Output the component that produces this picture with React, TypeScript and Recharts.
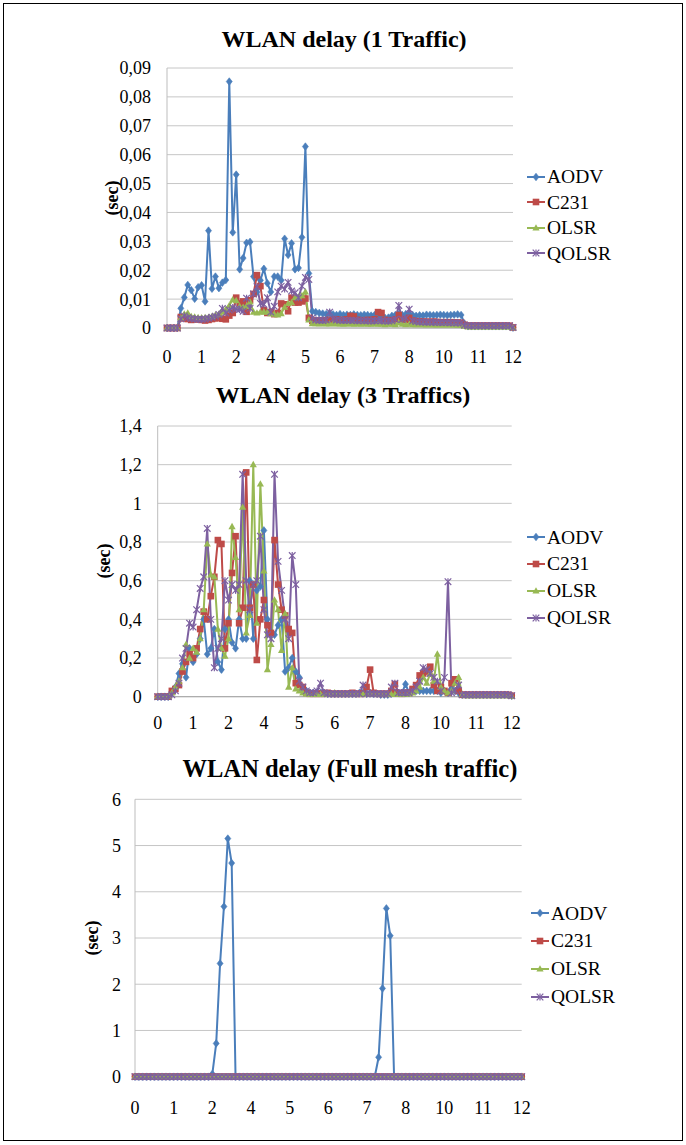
import React from 'react';
import { LineChart, Line, XAxis, YAxis, CartesianGrid, Legend } from 'recharts';

const FONT = "'Liberation Serif', 'Times New Roman', serif";

const SERIES = ['AODV', 'C231', 'OLSR', 'QOLSR'];
const COLORS: Record<string, string> = {
  AODV: '#4A7EBB',
  C231: '#BE4B48',
  OLSR: '#98B954',
  QOLSR: '#7D60A0',
};
const SHAPES: Record<string, string> = {
  AODV: 'diamond',
  C231: 'square',
  OLSR: 'triangle',
  QOLSR: 'x',
};

// x axis: 101 samples, a label every 10th sample
const X_TICK_POS = [0, 10, 20, 30, 40, 50, 60, 70, 80, 90, 100];
const X_TICK_LABELS = ['0', '1', '2', '4', '5', '6', '7', '8', '10', '11', '12'];

// ---------- Chart 1 : WLAN delay (1 Traffic) ----------
const Y1_TICKS = [0, 0.01, 0.02, 0.03, 0.04, 0.05, 0.06, 0.07, 0.08, 0.09];
const Y1_LABELS = ['0', '0,01', '0,02', '0,03', '0,04', '0,05', '0,06', '0,07', '0,08', '0,09'];

const AODV_1 = [
  0, 0, 0, 0, 0.0068, 0.0106, 0.0149, 0.0131, 0.0101, 0.0141,
  0.0148, 0.0092, 0.0337, 0.0136, 0.0178, 0.0138, 0.0157, 0.0166, 0.0853, 0.0331,
  0.0531, 0.0203, 0.0242, 0.0295, 0.0298, 0.0178, 0.0125, 0.0165, 0.0205, 0.0155,
  0.0125, 0.0178, 0.0178, 0.0165, 0.0309, 0.0253, 0.0293, 0.0203, 0.0208, 0.0314,
  0.0628, 0.0189, 0.0058, 0.0055, 0.0052, 0.005, 0.0048, 0.0052, 0.0047, 0.0045,
  0.0048, 0.0045, 0.0046, 0.0045, 0.0047, 0.0045, 0.0044, 0.0046, 0.0045, 0.0043,
  0.0045, 0.0042, 0.0038, 0.0035, 0.0036, 0.0042, 0.0045, 0.0047, 0.0045, 0.0048,
  0.0046, 0.0045, 0.0042, 0.0044, 0.0043, 0.0046, 0.0045, 0.0044, 0.0045, 0.0046,
  0.0045, 0.0044, 0.0045, 0.0046, 0.0047, 0.0045, 0.0015, 0.0006, 0.0006, 0.0006,
  0.0006, 0.0006, 0.0006, 0.0006, 0.0006, 0.0006, 0.0006, 0.0006, 0.0006, 0.0006,
  0.0001,
];
const C231_1 = [
  0, 0, 0, 0, 0.0038, 0.0033, 0.0031, 0.0028, 0.003, 0.003,
  0.0028, 0.0026, 0.0028, 0.0031, 0.0033, 0.0036, 0.0032, 0.003, 0.0043, 0.0052,
  0.0105, 0.0085, 0.0092, 0.0056, 0.0096, 0.0118, 0.0183, 0.0145, 0.0062, 0.0052,
  0.0055, 0.0048, 0.0052, 0.0085, 0.0082, 0.0058, 0.0105, 0.0088, 0.0088, 0.0092,
  0.0102, 0.0035, 0.0025, 0.0026, 0.0025, 0.0027, 0.0026, 0.0028, 0.0027, 0.003,
  0.0028, 0.0027, 0.003, 0.0042, 0.004, 0.0028, 0.0027, 0.0026, 0.0028, 0.0027,
  0.003, 0.0055, 0.0052, 0.0028, 0.0026, 0.0027, 0.003, 0.0045, 0.003, 0.0028,
  0.0035, 0.0026, 0.0024, 0.0023, 0.0022, 0.0022, 0.0021, 0.0022, 0.0021, 0.002,
  0.002, 0.002, 0.002, 0.0019, 0.0019, 0.0018, 0.0011, 0.0008, 0.0008, 0.0008,
  0.0008, 0.0008, 0.0008, 0.0008, 0.0008, 0.0008, 0.0008, 0.0008, 0.0008, 0.0008,
  0.0002,
];
const OLSR_1 = [
  0, 0, 0, 0, 0.0035, 0.0048, 0.0052, 0.004, 0.0038, 0.0036,
  0.0035, 0.0036, 0.0037, 0.004, 0.0045, 0.0048, 0.0055, 0.0065, 0.0078, 0.0098,
  0.0095, 0.0075, 0.0072, 0.0075, 0.009, 0.0055, 0.0052, 0.0055, 0.0056, 0.0055,
  0.005, 0.0048, 0.0045, 0.005, 0.0072, 0.0085, 0.0088, 0.0105, 0.0108, 0.0112,
  0.0125, 0.0028, 0.0015, 0.0015, 0.0014, 0.0015, 0.0014, 0.0014, 0.0015, 0.0014,
  0.0014, 0.0013, 0.0014, 0.0014, 0.0013, 0.0014, 0.0013, 0.0014, 0.0013, 0.0013,
  0.0014, 0.0013, 0.0013, 0.0012, 0.0013, 0.0013, 0.0012, 0.0018, 0.0013, 0.0012,
  0.0013, 0.0012, 0.0012, 0.0012, 0.0012, 0.0011, 0.0012, 0.0011, 0.0011, 0.0011,
  0.0011, 0.0011, 0.0011, 0.0011, 0.001, 0.001, 0.0006, 0.0004, 0.0004, 0.0004,
  0.0004, 0.0004, 0.0004, 0.0004, 0.0004, 0.0004, 0.0004, 0.0004, 0.0004, 0.0004,
  0.0001,
];
const QOLSR_1 = [
  0, 0, 0, 0, 0.0032, 0.0042, 0.0036, 0.0033, 0.0031, 0.003,
  0.003, 0.0031, 0.0034, 0.0037, 0.0041, 0.0047, 0.0068, 0.0052, 0.0062, 0.0071,
  0.0066, 0.0064, 0.0058, 0.0103, 0.0068, 0.0118, 0.0143, 0.0085, 0.0082, 0.0105,
  0.0055, 0.0075, 0.0125, 0.0145, 0.0135, 0.0158, 0.0128, 0.0122, 0.0105, 0.0145,
  0.0175, 0.0168, 0.0035, 0.0028, 0.0027, 0.0026, 0.0028, 0.0055, 0.0032, 0.0028,
  0.0027, 0.0026, 0.0026, 0.0027, 0.0026, 0.0025, 0.0026, 0.0025, 0.0025, 0.0024,
  0.0025, 0.0026, 0.0025, 0.0024, 0.0024, 0.0025, 0.003, 0.0078, 0.003, 0.0035,
  0.0065, 0.0025, 0.0022, 0.0021, 0.0021, 0.002, 0.002, 0.002, 0.0019, 0.0019,
  0.0019, 0.0019, 0.0018, 0.0018, 0.0018, 0.0017, 0.001, 0.0008, 0.0008, 0.0008,
  0.0008, 0.0008, 0.0008, 0.0008, 0.0008, 0.0008, 0.0008, 0.0008, 0.0008, 0.0008,
  0.0002,
];

// ---------- Chart 2 : WLAN delay (3 Traffics) ----------
const Y2_TICKS = [0, 0.2, 0.4, 0.6, 0.8, 1, 1.2, 1.4];
const Y2_LABELS = ['0', '0,2', '0,4', '0,6', '0,8', '1', '1,2', '1,4'];

const AODV_2 = [
  0, 0, 0, 0, 0.02, 0.05, 0.12, 0.17, 0.1, 0.25,
  0.18, 0.22, 0.3, 0.4, 0.22, 0.25, 0.35, 0.18, 0.14, 0.35,
  0.4, 0.28, 0.25, 0.4, 0.3, 0.3, 0.6, 0.3, 0.55, 0.57,
  0.86, 0.4, 0.33, 0.32, 0.37, 0.4, 0.13, 0.15, 0.2, 0.13,
  0.1, 0.04, 0.03, 0.02, 0.02, 0.02, 0.02, 0.02, 0.015, 0.015,
  0.015, 0.015, 0.015, 0.015, 0.015, 0.015, 0.015, 0.02, 0.02, 0.015,
  0.02, 0.015, 0.015, 0.01, 0.01, 0.01, 0.015, 0.02, 0.02, 0.02,
  0.065, 0.02, 0.03, 0.03, 0.03, 0.03, 0.03, 0.03, 0.03, 0.03,
  0.02, 0.03, 0.02, 0.04, 0.03, 0.02, 0.01, 0.01, 0.01, 0.01,
  0.01, 0.01, 0.01, 0.01, 0.01, 0.01, 0.01, 0.01, 0.01, 0.01,
  0.005,
];
const C231_2 = [
  0, 0, 0, 0, 0.03, 0.04, 0.06, 0.13, 0.18, 0.22,
  0.2, 0.25, 0.35, 0.44, 0.4, 0.52, 0.62, 0.81, 0.79, 0.25,
  0.38, 0.64, 0.83, 0.38, 0.46, 1.16, 0.46, 0.58, 0.19, 0.4,
  0.5, 0.37, 0.33, 0.81, 0.58, 0.45, 0.42, 0.35, 0.33, 0.07,
  0.06, 0.05, 0.02, 0.015, 0.015, 0.015, 0.015, 0.015, 0.02, 0.015,
  0.015, 0.015, 0.015, 0.015, 0.015, 0.02, 0.015, 0.015, 0.015, 0.05,
  0.14, 0.02, 0.015, 0.015, 0.015, 0.015, 0.03, 0.065, 0.02, 0.015,
  0.02, 0.02, 0.04, 0.06, 0.11, 0.12, 0.13, 0.155, 0.06, 0.03,
  0.05, 0.03, 0.02, 0.07, 0.09, 0.03, 0.01, 0.01, 0.01, 0.01,
  0.01, 0.01, 0.01, 0.01, 0.01, 0.01, 0.01, 0.01, 0.01, 0.01,
  0.005,
];
const OLSR_2 = [
  0, 0, 0, 0, 0.02, 0.05, 0.08, 0.15, 0.27, 0.2,
  0.25, 0.23, 0.3, 0.45, 0.79, 0.63, 0.62, 0.35, 0.25, 0.21,
  0.3, 0.88, 0.72, 0.45, 0.98, 0.33, 0.42, 1.2, 0.38, 1.1,
  0.65, 0.14, 0.27, 0.5, 0.45, 0.24, 0.43, 0.05, 0.15, 0.04,
  0.03, 0.02, 0.015, 0.012, 0.012, 0.012, 0.012, 0.012, 0.012, 0.012,
  0.02, 0.012, 0.012, 0.012, 0.012, 0.012, 0.012, 0.012, 0.012, 0.012,
  0.012, 0.012, 0.012, 0.012, 0.012, 0.012, 0.012, 0.012, 0.012, 0.012,
  0.012, 0.015, 0.02, 0.03, 0.05, 0.1, 0.07, 0.12, 0.08, 0.22,
  0.05, 0.03, 0.02, 0.03, 0.07, 0.1, 0.01, 0.005, 0.005, 0.005,
  0.005, 0.005, 0.005, 0.005, 0.005, 0.005, 0.005, 0.005, 0.005, 0.005,
  0.002,
];
const QOLSR_2 = [
  0, 0, 0, 0, 0.01, 0.03, 0.07, 0.2, 0.25, 0.38,
  0.36, 0.45, 0.56, 0.62, 0.87, 0.4, 0.15, 0.25, 0.3, 0.6,
  0.5, 0.58, 0.55, 0.58, 1.15, 0.6, 0.45, 0.58, 0.6, 0.83,
  0.45, 0.32, 0.3, 1.15, 0.7, 0.55, 0.4, 0.3, 0.73, 0.58,
  0.08, 0.05, 0.03, 0.02, 0.02, 0.03, 0.07, 0.02, 0.015, 0.015,
  0.015, 0.015, 0.015, 0.015, 0.015, 0.015, 0.015, 0.015, 0.06, 0.015,
  0.015, 0.015, 0.015, 0.015, 0.015, 0.015, 0.05, 0.07, 0.02, 0.02,
  0.02, 0.02, 0.03, 0.05, 0.08, 0.15, 0.14, 0.12, 0.1, 0.08,
  0.03, 0.1, 0.595, 0.02, 0.03, 0.06, 0.01, 0.01, 0.01, 0.01,
  0.01, 0.01, 0.01, 0.01, 0.01, 0.01, 0.01, 0.01, 0.01, 0.01,
  0.005,
];

// ---------- Chart 3 : WLAN delay (Full mesh traffic) ----------
const Y3_TICKS = [0, 1, 2, 3, 4, 5, 6];
const Y3_LABELS = ['0', '1', '2', '3', '4', '5', '6'];

const AODV_3 = [
  0, 0, 0, 0, 0, 0, 0, 0, 0, 0,
  0, 0, 0, 0, 0, 0, 0, 0, 0, 0,
  0.06, 0.72, 2.45, 3.68, 5.15, 4.62, 0, 0, 0, 0,
  0, 0, 0, 0, 0, 0, 0, 0, 0, 0,
  0, 0, 0, 0, 0, 0, 0, 0, 0, 0,
  0, 0, 0, 0, 0, 0, 0, 0, 0, 0,
  0, 0, 0, 0.42, 1.91, 3.64, 3.05, 0, 0, 0,
  0, 0, 0, 0, 0, 0, 0, 0, 0, 0,
  0, 0, 0, 0, 0, 0, 0, 0, 0, 0,
  0, 0, 0, 0, 0, 0, 0, 0, 0, 0,
  0,
];
// C231, OLSR and QOLSR all stay at 0 in the full mesh case
const ZERO_3 = [
  0, 0, 0, 0, 0, 0, 0, 0, 0, 0,
  0, 0, 0, 0, 0, 0, 0, 0, 0, 0,
  0, 0, 0, 0, 0, 0, 0, 0, 0, 0,
  0, 0, 0, 0, 0, 0, 0, 0, 0, 0,
  0, 0, 0, 0, 0, 0, 0, 0, 0, 0,
  0, 0, 0, 0, 0, 0, 0, 0, 0, 0,
  0, 0, 0, 0, 0, 0, 0, 0, 0, 0,
  0, 0, 0, 0, 0, 0, 0, 0, 0, 0,
  0, 0, 0, 0, 0, 0, 0, 0, 0, 0,
  0, 0, 0, 0, 0, 0, 0, 0, 0, 0,
  0,
];
const C231_3 = ZERO_3;
const OLSR_3 = ZERO_3;
const QOLSR_3 = ZERO_3;

function buildData(a: number[], b: number[], c: number[], d: number[]) {
  return a.map((v, i) => ({ i, AODV: v, C231: b[i], OLSR: c[i], QOLSR: d[i] }));
}

function Marker({ shape, cx, cy, color }: { shape: string; cx: number; cy: number; color: string }) {
  if (cx == null || cy == null || isNaN(cx) || isNaN(cy)) return null;
  if (shape === 'diamond') {
    return (
      <polygon
        points={`${cx},${cy - 3.8} ${cx + 3},${cy} ${cx},${cy + 3.8} ${cx - 3},${cy}`}
        fill={color}
        stroke={color}
        strokeWidth={0.6}
      />
    );
  }
  if (shape === 'square') {
    return <rect x={cx - 3.3} y={cy - 3.3} width={6.6} height={6.6} fill={color} />;
  }
  if (shape === 'triangle') {
    return (
      <polygon
        points={`${cx},${cy - 3.8} ${cx + 3.6},${cy + 2.6} ${cx - 3.6},${cy + 2.6}`}
        fill={color}
      />
    );
  }
  return (
    <g stroke={color} strokeWidth={1.2}>
      <line x1={cx - 3.3} y1={cy - 3.3} x2={cx + 3.3} y2={cy + 3.3} />
      <line x1={cx - 3.3} y1={cy + 3.3} x2={cx + 3.3} y2={cy - 3.3} />
      <line x1={cx} y1={cy - 3.5} x2={cx} y2={cy + 3.5} />
    </g>
  );
}

function LegendBox({ rowH }: { rowH: number }) {
  return (
    <div style={{ fontFamily: FONT, fontSize: 19.5, color: '#000' }}>
      {SERIES.map((s) => (
        <div key={s} style={{ display: 'flex', alignItems: 'center', height: rowH }}>
          <svg width={20} height={12} style={{ display: 'block' }}>
            <line x1={1} y1={6} x2={19} y2={6} stroke={COLORS[s]} strokeWidth={2} />
            <Marker shape={SHAPES[s]} cx={10} cy={6} color={COLORS[s]} />
          </svg>
          <span style={{ marginLeft: 1, lineHeight: 1, fontFamily: FONT }}>{s}</span>
        </div>
      ))}
    </div>
  );
}

type PanelProps = {
  data: any[];
  height: number;
  plotTop: number;
  plotBottom: number;
  plotLeft: number;
  plotRight: number;
  yMax: number;
  yTicks: number[];
  yLabels: string[];
  yGap: number;
  xGap: number;
  legendLeft: number;
  legendTop: number;
  legendRow: number;
};

const TICK_STYLE = { fontFamily: FONT, fontSize: 18, fill: '#000', style: { fontFamily: FONT } };

function Panel(p: PanelProps) {
  const W = 686;
  return (
    <LineChart
      width={W}
      height={p.height}
      data={p.data}
      margin={{ top: p.plotTop, right: W - p.plotRight, bottom: 0, left: 0 }}
      style={{ fontFamily: FONT }}
    >
      <CartesianGrid vertical={false} stroke="#C6C6C6" strokeWidth={1} />
      <XAxis
        dataKey="i"
        type="number"
        domain={[0, 100]}
        ticks={X_TICK_POS}
        interval={0}
        height={p.height - p.plotBottom}
        tickLine={false}
        tickSize={0}
        tickMargin={p.xGap}
        axisLine={{ stroke: '#A6A6A6' }}
        tick={TICK_STYLE}
        tickFormatter={(v: number) => X_TICK_LABELS[X_TICK_POS.indexOf(v)]}
      />
      <YAxis
        type="number"
        domain={[0, p.yMax]}
        ticks={p.yTicks}
        interval={0}
        width={p.plotLeft}
        tickLine={false}
        tickSize={0}
        tickMargin={p.yGap}
        axisLine={{ stroke: '#BDBDBD' }}
        tick={TICK_STYLE}
        tickFormatter={(v: number) => {
          const k = p.yTicks.findIndex((t) => Math.abs(t - v) < 1e-9);
          return k >= 0 ? p.yLabels[k] : String(v);
        }}
      />
      {SERIES.map((s) => (
        <Line
          key={s}
          dataKey={s}
          type="linear"
          stroke={COLORS[s]}
          strokeWidth={2}
          isAnimationActive={false}
          activeDot={false}
          dot={(dp: any) => (
            <Marker key={`${s}-${dp.index}`} shape={SHAPES[s]} cx={dp.cx} cy={dp.cy} color={COLORS[s]} />
          )}
        />
      ))}
      <Legend
        layout="vertical"
        align="center"
        verticalAlign="middle"
        wrapperStyle={{ left: p.legendLeft, top: p.legendTop, width: 150 }}
        content={() => <LegendBox rowH={p.legendRow} />}
      />
    </LineChart>
  );
}

const titleStyle: React.CSSProperties = {
  position: 'absolute',
  left: 0,
  width: 686,
  textAlign: 'center',
  fontFamily: FONT,
  fontWeight: 'bold',
  fontSize: 24,
  lineHeight: '24px',
  color: '#000',
  whiteSpace: 'nowrap',
};

function YTitle({ x, y }: { x: number; y: number }) {
  return (
    <div
      style={{
        position: 'absolute',
        left: x,
        top: y,
        transform: 'translate(-50%, -50%) rotate(-90deg)',
        fontFamily: FONT,
        fontWeight: 'bold',
        fontSize: 18,
        lineHeight: '18px',
        whiteSpace: 'nowrap',
        color: '#000',
      }}
    >
      (sec)
    </div>
  );
}

export default function App() {
  const d1 = buildData(AODV_1, C231_1, OLSR_1, QOLSR_1);
  const d2 = buildData(AODV_2, C231_2, OLSR_2, QOLSR_2);
  const d3 = buildData(AODV_3, C231_3, OLSR_3, QOLSR_3);
  return (
    <div
      style={{
        position: 'absolute',
        left: 0,
        top: 0,
        width: 686,
        height: 1145,
        background: '#fff',
        overflow: 'hidden',
        fontFamily: FONT,
      }}
    >
      <div
        style={{
          position: 'absolute',
          left: 3,
          top: 3,
          width: 680,
          height: 1138,
          border: '1.5px solid #000',
          boxSizing: 'border-box',
        }}
      />
      <div style={{ position: 'absolute', left: 0, top: 0 }}>
        <Panel
          data={d1}
          height={370}
          plotTop={68}
          plotBottom={328}
          plotLeft={167}
          plotRight={513}
          yMax={0.09}
          yTicks={Y1_TICKS}
          yLabels={Y1_LABELS}
          yGap={16}
          xGap={22}
          legendLeft={526}
          legendTop={164}
          legendRow={25.5}
        />
      </div>
      <div style={{ position: 'absolute', left: 0, top: 370 }}>
        <Panel
          data={d2}
          height={370}
          plotTop={56}
          plotBottom={326.7}
          plotLeft={157.7}
          plotRight={511.7}
          yMax={1.4}
          yTicks={Y2_TICKS}
          yLabels={Y2_LABELS}
          yGap={16}
          xGap={20}
          legendLeft={526}
          legendTop={153.9}
          legendRow={26.8}
        />
      </div>
      <div style={{ position: 'absolute', left: 0, top: 740 }}>
        <Panel
          data={d3}
          height={405}
          plotTop={59.3}
          plotBottom={336.7}
          plotLeft={135}
          plotRight={521.7}
          yMax={6}
          yTicks={Y3_TICKS}
          yLabels={Y3_LABELS}
          yGap={14}
          xGap={25}
          legendLeft={530}
          legendTop={159.4}
          legendRow={27.8}
        />
      </div>
      <div style={{ ...titleStyle, top: 26.6, left: 1 }}>WLAN delay (1 Traffic)</div>
      <div style={{ ...titleStyle, top: 382.5 }}>WLAN delay (3 Traffics)</div>
      <div style={{ ...titleStyle, top: 757, left: 7, fontSize: 24.5 }}>WLAN delay (Full mesh traffic)</div>
      <YTitle x={112} y={198} />
      <YTitle x={104} y={561} />
      <YTitle x={92} y={938} />
    </div>
  );
}
